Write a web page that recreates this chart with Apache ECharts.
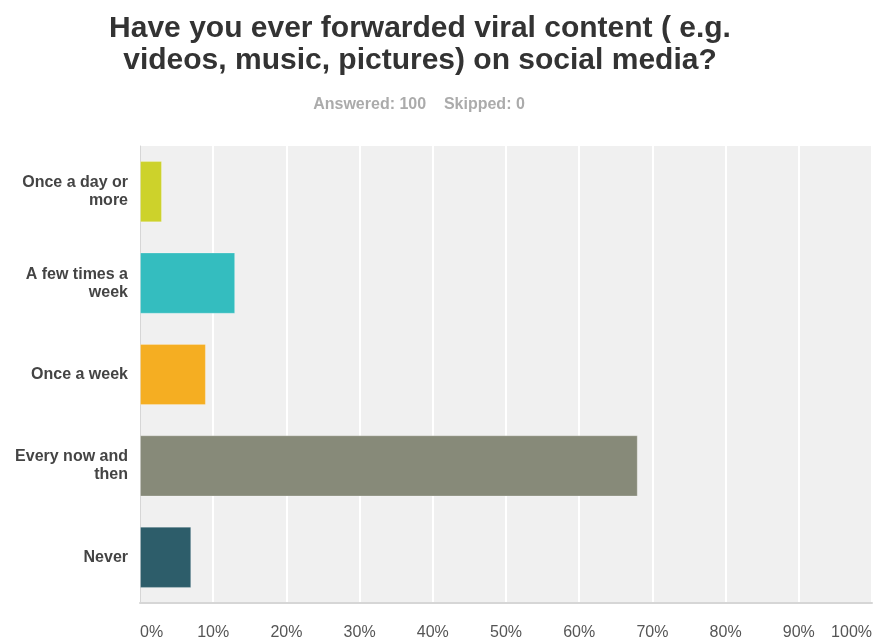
<!DOCTYPE html>
<html>
<head>
<meta charset="utf-8">
<script src="https://cdn.jsdelivr.net/npm/echarts@6/dist/echarts.min.js"></script>
<style>
  html, body { margin: 0; padding: 0; background: #fff; }
  #chart { width: 875px; height: 641px; }
</style>
</head>
<body>
<div id="chart"></div>
<script>
// Survey answers, top to bottom
const categories = [
  'Once a day or\nmore',
  'A few times a\nweek',
  'Once a week',
  'Every now and\nthen',
  'Never'
];
// Share of respondents, percent
const shares = [3, 13, 9, 68, 7];
const barColors = ['#cdd22b', '#34bdbf', '#f5ae22', '#878a79', '#2d5d6a'];
const tickLabels = ['0%', '10%', '20%', '30%', '40%', '50%', '60%', '70%', '80%', '90%', '100%'];

const titleLines = ['Have you ever forwarded viral content ( e.g.', 'videos, music, pictures) on social media?'];
const subtitleText = 'Answered: 100    Skipped: 0';

const font = '"Liberation Sans", Arial, Helvetica, sans-serif';
const chart = echarts.init(document.getElementById('chart'));

chart.setOption({
  animation: false,
  backgroundColor: '#ffffff',
  graphic: [
    {
      type: 'text',
      x: 420, y: 45,
      style: {
        text: titleLines.join('\n'),
        font: 'bold 30px ' + font,
        fill: '#333333',
        align: 'center',
        verticalAlign: 'middle',
        lineHeight: 32
      }
    },
    {
      type: 'text',
      x: 419, y: 105,
      style: {
        text: subtitleText,
        font: 'bold 16px ' + font,
        fill: '#ababab',
        align: 'center',
        verticalAlign: 'middle'
      }
    }
  ],
  grid: {
    left: 140, right: 0, top: 146, bottom: 38,
    show: true,
    backgroundColor: '#f0f0f0',
    borderWidth: 0,
    containLabel: false
  },
  xAxis: {
    type: 'value',
    min: 0, max: 100, interval: 10,
    axisLine: { show: true, lineStyle: { color: '#d6d6d6', width: 2 } },
    axisTick: { show: false },
    splitLine: { show: true, lineStyle: { color: '#ffffff', width: 2 } },
    axisLabel: {
      margin: 22,
      fontFamily: font,
      fontSize: 16,
      color: '#555555',
      alignMinLabel: 'left',
      alignMaxLabel: 'right',
      formatter: function (v) { return tickLabels[Math.round(v / 10)]; }
    }
  },
  yAxis: {
    type: 'category',
    data: categories,
    inverse: true,
    axisLine: { show: true, lineStyle: { color: '#d6d6d6', width: 1 } },
    axisTick: { show: false },
    splitLine: { show: false },
    axisLabel: {
      margin: 12,
      fontFamily: font,
      fontWeight: 'bold',
      fontSize: 16,
      lineHeight: 18,
      color: '#444444'
    }
  },
  series: [{
    type: 'bar',
    data: shares.map(function (v, i) {
      return { value: v, itemStyle: { color: barColors[i] } };
    }),
    barCategoryGap: '33%',
    itemStyle: { borderColor: 'rgba(255,255,255,0.25)', borderWidth: 1 }
  }]
});
</script>
</body>
</html>
